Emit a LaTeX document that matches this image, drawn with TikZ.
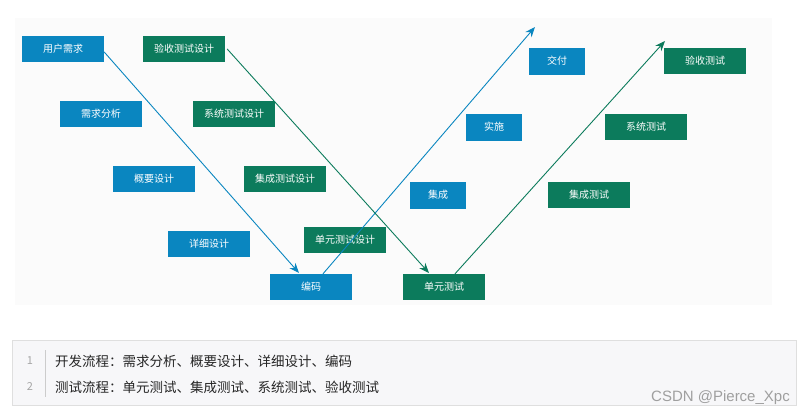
\documentclass[tikz,border=0pt]{standalone}
\usepackage{fontspec}
\setmainfont{Noto Sans CJK SC}
\usetikzlibrary{arrows.meta}
\definecolor{vb}{HTML}{0A86C0}
\definecolor{vg}{HTML}{0C7B5C}
\definecolor{panel}{HTML}{F7F7F9}
\begin{document}
\begin{tikzpicture}[x=1pt,y=-1pt,
  bx/.style={fill=#1,text=white,minimum width=82pt,minimum height=26pt,inner sep=0pt,font=\fontsize{10}{11}\selectfont},
  sbx/.style={bx=#1,minimum width=56pt,minimum height=27pt},
  arr/.style={draw=#1,line width=0.9pt,-{Stealth[length=10pt,width=8pt]}}]
\useasboundingbox (0,0) rectangle (804,418);
\fill[black!1.5] (15,18) rectangle (772,305);
\node[bx=vb] (yh) at (63,49) {用户需求};
\node[bx=vg] (ys) at (184,49) {验收测试设计};
\node[bx=vb] (xq) at (101,114) {需求分析};
\node[bx=vg] (xt) at (234,114) {系统测试设计};
\node[bx=vb] (gy) at (154,179) {概要设计};
\node[bx=vg] (jc) at (285,179) {集成测试设计};
\node[bx=vb] (xx) at (209,244) {详细设计};
\node[bx=vg] (dy) at (345,240) {单元测试设计};
\node[bx=vb] (bm) at (311,287) {编码};
\node[bx=vg] (dc) at (444,287) {单元测试};
\node[sbx=vb] (ji) at (438,195) {集成};
\node[sbx=vb] (ss) at (494,127) {实施};
\node[sbx=vb] (jf) at (557,61) {交付};
\node[bx=vg] (jcs) at (589,195) {集成测试};
\node[bx=vg] (xts) at (646,127) {系统测试};
\node[bx=vg] (yss) at (705,61) {验收测试};
\coordinate (e1) at (299,273);
\coordinate (e2) at (535,27);
\coordinate (e3) at (429,273);
\coordinate (e4) at (665,41);
\draw[arr=vb] (yh.east) ++(0,3) -- (e1);
\draw[arr=vb] ([xshift=12pt]bm.north) -- (e2);
\draw[arr=vg] (ys.east) ++(2,0) -- (e3);
\draw[arr=vg] ([xshift=11pt]dc.north) -- (e4);
\node[draw=gray!25,fill=panel,minimum width=784pt,minimum height=65pt,inner sep=0pt,anchor=north west] (pn) at (12,340) {};
\draw[gray!40,line width=0.8pt] (45,350) -- (45,397);
\node[text=gray!70,font=\fontsize{11}{12}\selectfont] (n1) at (30,361) {1};
\node[text=gray!70,font=\fontsize{11}{12}\selectfont] (n2) at (30,387) {2};
\node[anchor=west,text=black!85,font=\fontsize{13.5}{15}\selectfont,inner sep=0pt] (t1) at (55,361) {开发流程：需求分析、概要设计、详细设计、编码};
\node[anchor=west,text=black!85,font=\fontsize{13.5}{15}\selectfont,inner sep=0pt] (t2) at (55,387) {测试流程：单元测试、集成测试、系统测试、验收测试};
\node[anchor=east,text=gray!75,font=\fontspec{Liberation Sans}\fontsize{15}{17}\selectfont,inner sep=0pt] (wm) at (790,398) {CSDN @Pierce\_Xpc};
\end{tikzpicture}
\end{document}
